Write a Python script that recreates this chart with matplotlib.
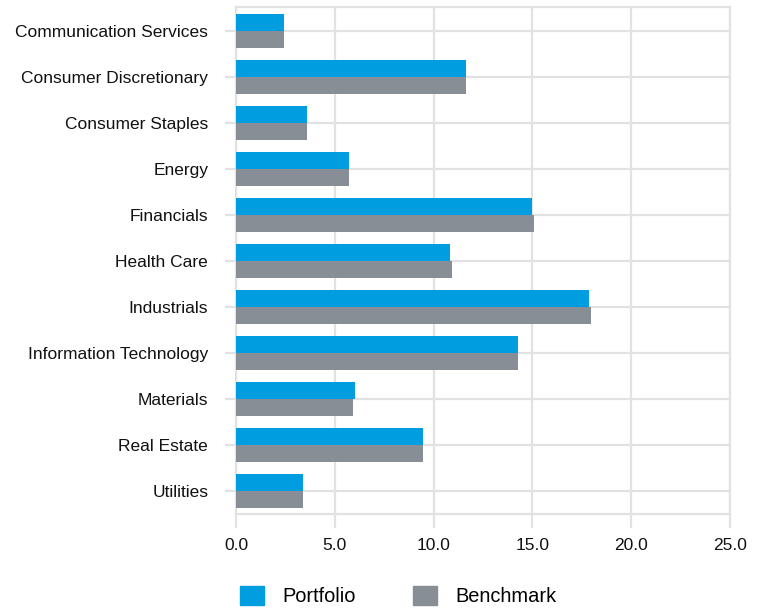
import numpy as np
import matplotlib.pyplot as plt
from matplotlib.patches import Patch

# sector weights (%)
sectors = ["Communication Services", "Consumer Discretionary", "Consumer Staples",
           "Energy", "Financials", "Health Care", "Industrials",
           "Information Technology", "Materials", "Real Estate", "Utilities"]
portfolio = [2.45, 11.65, 3.58, 5.71, 15.0, 10.84, 17.84, 14.29, 6.02, 9.47, 3.38]
benchmark = [2.45, 11.65, 3.58, 5.71, 15.1, 10.94, 17.94, 14.29, 5.91, 9.47, 3.38]
xticks = [0, 5, 10, 15, 20, 25]

plt.rcParams['font.family'] = ['Liberation Sans', 'DejaVu Sans']

blue = '#009ee0'
grey = '#878e95'
gridc = '#e2e2e2'

fig = plt.figure(figsize=(7.72, 6.13), dpi=100)
ax = fig.add_axes([0.3057, 0.1615, 0.6400, 0.8270])

y = np.arange(len(sectors))
h = 0.36
ax.barh(y - h / 2, portfolio, height=h, color=blue, zorder=3)
ax.barh(y + h / 2, benchmark, height=h, color=grey, zorder=3)

ax.set_ylim(len(sectors) - 0.5, -0.52)
ax.set_xlim(0, 25)
ax.set_yticks(y)
ax.set_yticklabels(sectors, fontsize=12.5, color='#111111')
ax.set_xticks(xticks)
ax.set_xticklabels(['{:.1f}'.format(v) for v in xticks], fontsize=12.5, color='#111111')

ax.grid(True, color=gridc, linewidth=1.6, zorder=0)
for s in ax.spines.values():
    s.set_color(gridc)
    s.set_linewidth(1.6)
ax.tick_params(axis='y', length=8, width=1.6, color=gridc, pad=12)
ax.tick_params(axis='x', length=10, width=1.6, color=gridc, pad=7)

handles = [Patch(color=blue, label='Portfolio'), Patch(color=grey, label='Benchmark')]
fig.legend(handles=handles, loc='center', bbox_to_anchor=(0.516, 0.028), ncol=2,
           frameon=False, fontsize=14.4, handlelength=1.2, handleheight=1.1,
           handletextpad=0.9, columnspacing=2.9)

fig.savefig('out.png', dpi=100)
